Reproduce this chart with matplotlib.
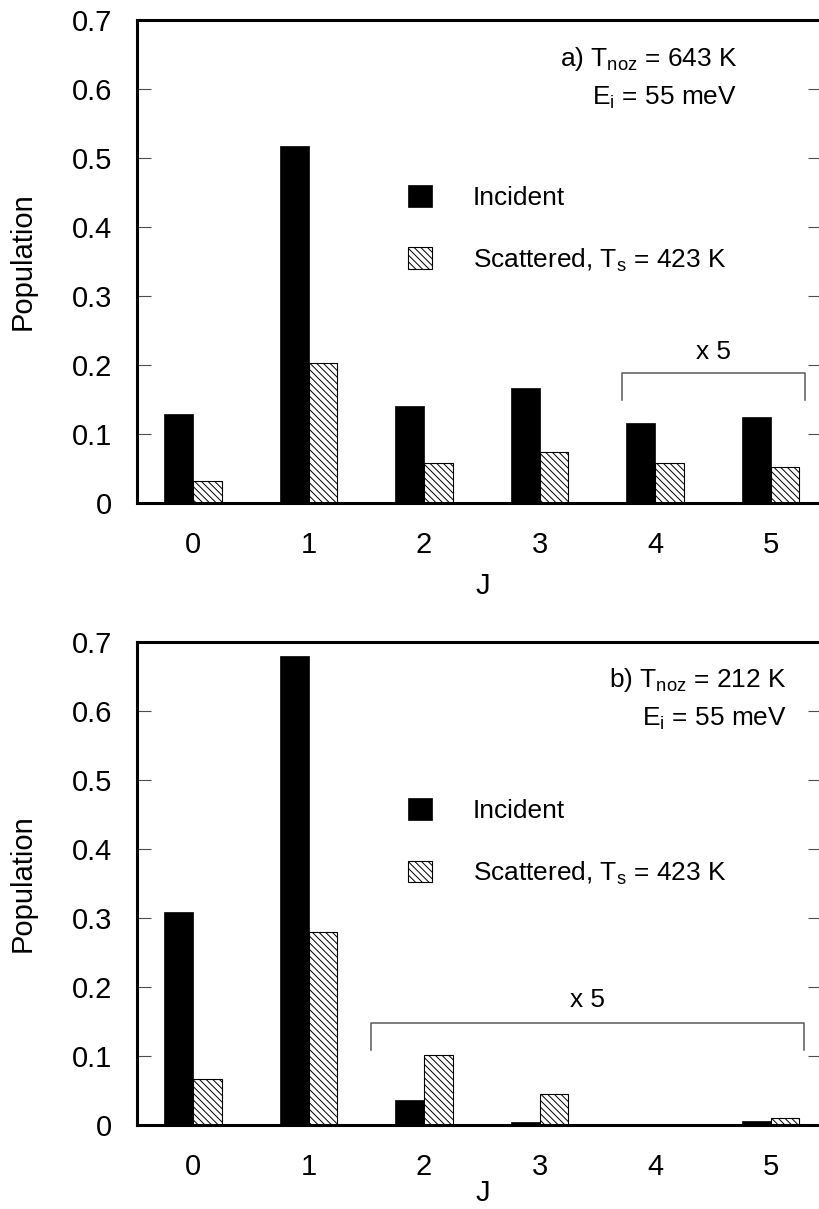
import numpy as np
import matplotlib
matplotlib.use("Agg")
import matplotlib.pyplot as plt

plt.rcParams['font.family'] = ['Liberation Sans', 'DejaVu Sans']
plt.rcParams['hatch.linewidth'] = 0.7

J = [0, 1, 2, 3, 4, 5]
yticks = [0, 0.1, 0.2, 0.3, 0.4, 0.5, 0.6, 0.7]
ytick_labels = ['0', '0.1', '0.2', '0.3', '0.4', '0.5', '0.6', '0.7']

# panel a: T_noz = 643 K
inc_a = [0.129, 0.517, 0.141, 0.166, 0.116, 0.125]
sca_a = [0.032, 0.203, 0.058, 0.074, 0.058, 0.052]
# panel b: T_noz = 212 K
inc_b = [0.308, 0.680, 0.036, 0.004, 0.0, 0.006]
sca_b = [0.067, 0.280, 0.101, 0.045, 0.0, 0.010]

fs = 21
w = 0.25

fig = plt.figure(figsize=(8.2, 12.09), dpi=100)
ax_a = fig.add_axes([0.1671, 0.5840, 0.8354, 0.3995])
ax_b = fig.add_axes([0.1671, 0.0695, 0.8354, 0.3995])


def draw(ax, inc, sca, title, leg_top, brk, x5, xlab_y):
    x = np.array(J)
    ax.bar(x - w / 2, inc, width=w, color='black', edgecolor='black', linewidth=0.5,
           label='Incident')
    ax.bar(x + w / 2, sca, width=w, color='white', edgecolor='black', linewidth=0.8,
           hatch='\\' * 5, label='Scattered, T$_\\mathregular{s}$ = 423 K')
    ax.set_xlim(-0.485, 5.446)
    ax.set_ylim(0, 0.7)
    ax.set_xticks(J)
    ax.set_yticks(yticks)
    ax.set_yticklabels(ytick_labels)
    ax.tick_params(axis='y', direction='in', left=True, right=True, length=10,
                   width=0.8, color='0.3', labelsize=fs, pad=18)
    ax.tick_params(axis='x', length=0, labelsize=fs, pad=20)
    for s in ['left', 'top', 'bottom', 'right']:
        ax.spines[s].set_linewidth(2.2)
    ax.set_ylabel('Population', fontsize=fs)
    ax.yaxis.set_label_coords(-0.146, 0.5)
    ax.set_xlabel('J', fontsize=fs)
    ax.xaxis.set_label_coords(0.505, xlab_y)

    ax.text(title[0], title[1], title[2], fontsize=fs * 0.9, ha='right', va='center')
    ax.text(title[0], title[1] - 0.056, 'E$_\\mathregular{i}$ = 55 meV', fontsize=fs * 0.9,
            ha='right', va='center')

    ax.legend(loc='upper left', bbox_to_anchor=(0.396, leg_top), frameon=False,
              fontsize=fs * 0.9, handlelength=0.9, handleheight=0.9,
              handletextpad=1.55, labelspacing=1.38, borderpad=0, borderaxespad=0)

    x1, x2, ytop, ybot = brk
    ax.plot([x1, x1, x2, x2], [ybot, ytop, ytop, ybot], color='0.35', lw=1.1)
    ax.text((x1 + x2) / 2, x5, 'x 5', fontsize=fs * 0.9, ha='center', va='center')


draw(ax_a, inc_a, sca_a, (4.71, 0.643, 'a) T$_\\mathregular{noz}$ = 643 K'), 0.658,
     (3.71, 5.30, 0.188, 0.149), 0.219, -0.143)
draw(ax_b, inc_b, sca_b, (5.14, 0.645, 'b) T$_\\mathregular{noz}$ = 212 K'), 0.676,
     (1.54, 5.29, 0.148, 0.108), 0.181, -0.112)

fig.savefig('out.png', dpi=100)
